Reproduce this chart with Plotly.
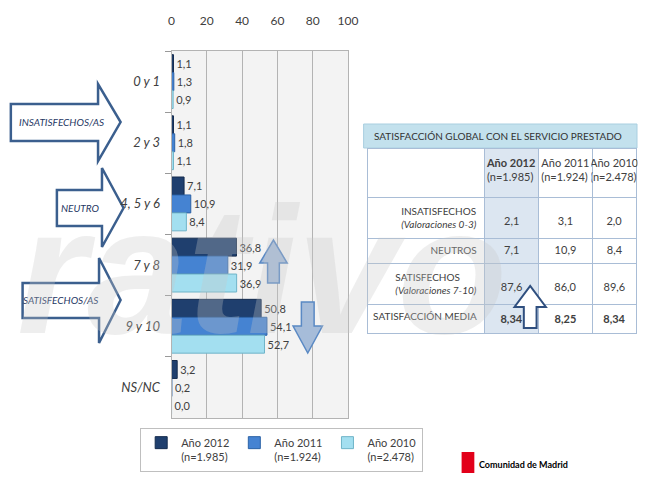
import plotly.graph_objects as go

W, H = 647, 492

# ---------------- data ----------------
categories = ["0 y 1", "2 y 3", "4, 5 y 6", "7 y 8", "9 y 10", "NS/NC"]
series_names = ["Año 2012", "Año 2011", "Año 2010"]
series_n = ["(n=1.985)", "(n=1.924)", "(n=2.478)"]
values_2012 = [1.1, 1.1, 7.1, 36.8, 50.8, 3.2]
values_2011 = [1.3, 1.8, 10.9, 31.9, 54.1, 0.2]
values_2010 = [0.9, 1.1, 8.4, 36.9, 52.7, 0.0]
x_ticks = [0, 20, 40, 60, 80, 100]

table_title = "SATISFACCIÓN GLOBAL CON EL SERVICIO PRESTADO"
table_rows = ["INSATISFECHOS", "NEUTROS", "SATISFECHOS", "SATISFACCIÓN MEDIA"]
table_row_notes = ["(Valoraciones 0-3)", "", "(Valoraciones 7-10)", ""]
table_2012 = [2.1, 7.1, 87.6, 8.34]
table_2011 = [3.1, 10.9, 86.0, 8.25]
table_2010 = [2.0, 8.4, 89.6, 8.34]

group_labels = ["INSATISFECHOS/AS", "NEUTRO", "SATISFECHOS/AS"]
logo_text = "Comunidad de Madrid"
watermark = "rativo"

# ---------------- styles ----------------
NARROW = "Lato, Liberation Sans, sans-serif"
bar_colors = ["#1f3f6e", "#4583d2", "#a3dff0"]
bar_lines = ["#142b4d", "#2c62a6", "#6fb4c8"]
TXT = "#404040"


def px(x):
    return x / W


def py(y):
    return 1 - y / H


fig = go.Figure()

series_vals = [values_2012, values_2011, values_2010]
for name, n, vals, c, lc in zip(series_names, series_n, series_vals, bar_colors, bar_lines):
    fig.add_trace(go.Bar(
        y=categories, x=vals, orientation="h",
        name=f"{name}<br>{n}",
        marker=dict(color=c, line=dict(color=lc, width=1)),
        texttemplate="%{x:.1f}", textposition="outside",
        textfont=dict(family=NARROW, size=11, color=TXT),
        cliponaxis=False,
    ))


def fmt(v, d):
    return f"{v:.{d}f}".replace(".", ",")


def col_vals(vals, notes):
    out = []
    for i, v in enumerate(vals):
        last = i == len(vals) - 1
        s = fmt(v, 2 if last else 1)
        if last:
            s = f"<b>{s}</b>"
        if notes[i]:
            # push the value down to the middle of a two-line row
            s = f"<span style='font-size:6px'> </span><br>{s}"
        out.append(s)
    return out


label_cells = []
for r, note in zip(table_rows, table_row_notes):
    r = r.replace(" ", "\u00a0")
    if note:
        label_cells.append(f"{r}<br><i>{note}</i>")
    else:
        label_cells.append(r)

LINE = "#a9bdd6"
SHADE = "#dce6f1"

# main table
fig.add_trace(go.Table(
    domain=dict(x=[px(372), 1], y=[py(360), py(148)]),
    columnwidth=[122, 56, 56, 46],
    header=dict(
        values=["", f"<b>{series_names[0]}</b><br>{series_n[0]}",
                f"{series_names[1]}<br>{series_n[1]}", f"{series_names[2]}<br>{series_n[2]}"],
        fill_color=["white", SHADE, "white", "white"],
        line_color=LINE, height=49, align="center",
        font=dict(family=NARROW, size=11, color=TXT)),
    cells=dict(
        values=[label_cells, col_vals(table_2012, table_row_notes), col_vals(table_2011, table_row_notes),
                col_vals(table_2010, table_row_notes)],
        fill_color=["white", SHADE, "white", "white"],
        line_color=LINE, height=25, align=["right", "center", "center", "center"],
        font=dict(family=NARROW, size=[10, 11, 11, 11], color=TXT)),
))

# ---------------- decorations ----------------
shapes = []


def right_arrow(x0, yb0, yb1, xh, yh0, yh1, xt, yt):
    pts = [(x0, yb0), (xh, yb0), (xh, yh0), (xt, yt), (xh, yh1), (xh, yb1), (x0, yb1)]
    return "M " + " L ".join(f"{px(a):.5f},{py(b):.5f}" for a, b in pts) + " Z"


def vert_arrow(xc, bw, hw, y_tail, y_head_base, y_tip):
    pts = [(xc - bw / 2, y_tail), (xc - bw / 2, y_head_base), (xc - hw / 2, y_head_base), (xc, y_tip),
           (xc + hw / 2, y_head_base), (xc + bw / 2, y_head_base), (xc + bw / 2, y_tail)]
    return "M " + " L ".join(f"{px(a):.5f},{py(b):.5f}" for a, b in pts) + " Z"


# title band of the table
shapes.append(dict(type="rect", xref="paper", yref="paper", x0=px(368), x1=1, y0=py(148), y1=py(124),
                   fillcolor="#c3e1ed", line=dict(color="#a9cfe0", width=1), layer="below"))

ARROW_LINE = "#3b5f8e"
for p in [right_arrow(8, 104, 141, 97, 84, 161, 120, 122),
          right_arrow(55, 190, 226, 101, 168, 247, 123, 208),
          right_arrow(20, 283, 318, 98, 258, 343, 120, 300)]:
    shapes.append(dict(type="path", path=p, xref="paper", yref="paper",
                       fillcolor="white", line=dict(color=ARROW_LINE, width=2.5), layer="below"))

shapes.append(dict(type="path", path=vert_arrow(276, 12, 28, 283, 263, 240), xref="paper", yref="paper",
                   fillcolor="#a6bcd9", line=dict(color="#5a89c4", width=1.5), layer="above"))
shapes.append(dict(type="path", path=vert_arrow(311, 13, 30, 302, 326, 353), xref="paper", yref="paper",
                   fillcolor="#a6bcd9", line=dict(color="#5a89c4", width=1.5), layer="above"))
shapes.append(dict(type="path", path=vert_arrow(538, 13, 32, 328, 307, 286), xref="paper", yref="paper",
                   fillcolor="white", line=dict(color="#2f4f7f", width=2), layer="above"))

# logo square
shapes.append(dict(type="rect", xref="paper", yref="paper", x0=px(468), x1=px(481), y0=py(473), y1=py(452),
                   fillcolor="#e2001a", line=dict(width=0), layer="above"))

annotations = []
for txt, (cx, cy) in zip(group_labels, [(60, 122), (79, 208), (59, 300)]):
    annotations.append(dict(text=txt, x=px(cx), y=py(cy), xref="paper", yref="paper", showarrow=False,
                            xanchor="center", yanchor="middle",
                            font=dict(family=NARROW, size=10, color="#1f3864", style="italic")))

annotations.append(dict(text=table_title, x=px(505), y=py(136), xref="paper", yref="paper",
                        xanchor="center", yanchor="middle", showarrow=False,
                        font=dict(family=NARROW, size=10, color="#333333")))

annotations.append(dict(text=f"<b>{logo_text}</b>", x=px(484), y=py(464), xref="paper", yref="paper",
                        xanchor="left", yanchor="middle", showarrow=False,
                        font=dict(family=NARROW, size=9, color="black")))

annotations.append(dict(text=watermark, x=px(264), y=py(270), xref="paper", yref="paper", showarrow=False,
                        xanchor="center", yanchor="middle",
                        font=dict(family="Liberation Sans, sans-serif",
                                  size=180, color="rgba(200,200,200,0.30)", weight="bold", style="italic")))

fig.update_layout(
    width=W, height=H, margin=dict(l=0, r=0, t=0, b=0),
    paper_bgcolor="white", plot_bgcolor="#f3f3f3",
    separators=",.",
    barmode="group", bargap=0.12, bargroupgap=0,
    font=dict(family=NARROW, color=TXT),
    xaxis=dict(domain=[px(172), px(352)], range=[0, 100], tickvals=x_ticks, side="top",
               showgrid=True, gridcolor="#b3b3b3", gridwidth=1, zeroline=False,
               showline=True, linecolor="#b3b3b3", mirror=True,
               tickfont=dict(family=NARROW, size=12, color=TXT), ticklabelstandoff=20, ticks=""),
    yaxis=dict(domain=[py(418), py(51)], type="category", categoryarray=categories,
               autorange="reversed", showgrid=False, showline=True, linecolor="#b3b3b3", mirror=True,
               ticks="outside", tickson="boundaries", ticklen=6, tickcolor="#999999",
               tickfont=dict(family=NARROW, size=13, color=TXT, style="italic"), ticklabelstandoff=8),
    legend=dict(orientation="h", x=px(140), y=py(428), xanchor="left", yanchor="top",
                bordercolor="#bfbfbf", borderwidth=1, bgcolor="white",
                font=dict(family=NARROW, size=11, color=TXT), itemwidth=30, valign="top",
                traceorder="normal"),
    shapes=shapes, annotations=annotations,
)

fig.write_html("out.html")
